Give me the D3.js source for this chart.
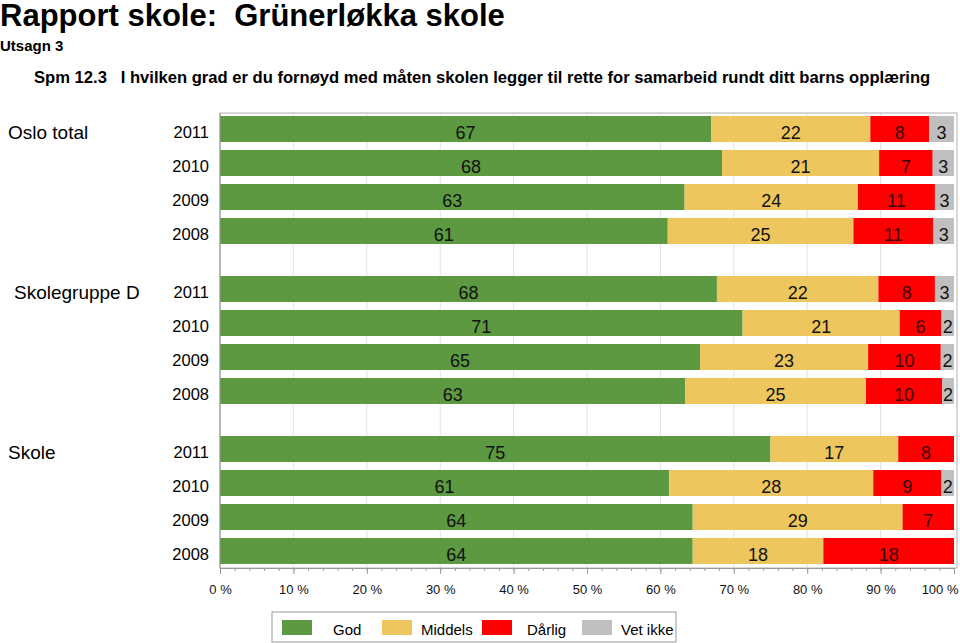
<!DOCTYPE html>
<html><head><meta charset="utf-8">
<script src="https://cdn.jsdelivr.net/npm/d3@7/dist/d3.min.js"></script>
<style>
body{margin:0;background:#fff;}
svg{display:block;font-family:"Liberation Sans",Arial,Helvetica,sans-serif;}
</style></head>
<body>
<svg id="c" width="960" height="643"></svg>
<script>
const groups = ["Oslo total", "Skolegruppe D", "Skole"];
const years = ["2011", "2010", "2009", "2008"];
const seriesNames = ["God", "Middels", "Dårlig", "Vet ikke"];
const colors = ["#5c9941", "#eec65e", "#ff0000", "#bfbfbf"];
const xTicks = [0, 10, 20, 30, 40, 50, 60, 70, 80, 90, 100];

// percentages per row (group, year) : God, Middels, Dårlig, Vet ikke
const god     = [66.9, 68.4, 63.3, 61.0,  67.7, 71.2, 65.4, 63.4,  75.0, 61.2, 64.4, 64.4];
const middels = [21.7, 21.4, 23.6, 25.3,  22.0, 21.4, 22.9, 24.6,  17.4, 27.8, 28.6, 17.8];
const darlig  = [ 8.0,  7.3, 10.5, 10.9,   7.7,  5.7,  9.9, 10.4,   7.6,  9.3,  7.0, 17.8];
const vetIkke = [ 3.4,  2.9,  2.6,  2.8,   2.6,  1.7,  1.8,  1.6,   0.0,  1.7,  0.0,  0.0];

const rows = [];
groups.forEach((g, gi) => years.forEach((y, yi) => {
  const i = gi * years.length + yi;
  rows.push({group: g, year: y, vals: [god[i], middels[i], darlig[i], vetIkke[i]]});
}));

const svg = d3.select("#c");
const pLeft = 220, pRight = 954, pTop = 113, pBottom = 568;

const x = d3.scaleLinear().domain([0, 100]).range([pLeft, pRight]);
const gScale = d3.scaleBand().domain(groups).range([116, 596]);
const yScale = d3.scaleBand().domain(years).range([0, 128]).paddingInner(8 / 34);
const rowY = d => gScale(d.group) + yScale(d.year);

// titles
svg.append("text").attr("x", 0).attr("y", 26).attr("font-size", 31).attr("font-weight", "bold")
  .style("white-space", "pre").text("Rapport skole:  Grünerløkka skole");
svg.append("text").attr("x", 0).attr("y", 51).attr("font-size", 15).attr("font-weight", "bold")
  .text("Utsagn 3");
svg.append("text").attr("x", 34).attr("y", 83).attr("font-size", 16.6).attr("font-weight", "bold")
  .style("white-space", "pre")
  .text("Spm 12.3   I hvilken grad er du fornøyd med måten skolen legger til rette for samarbeid rundt ditt barns opplæring");

// gridlines
svg.append("g").selectAll("line").data(xTicks.slice(1, -1)).join("line")
  .attr("x1", d => x(d)).attr("x2", d => x(d)).attr("y1", pTop).attr("y2", pBottom)
  .attr("stroke", "#e2e2e2").attr("stroke-width", 1);

// frame
svg.append("rect").attr("x", pLeft).attr("y", pTop).attr("width", 957 - pLeft).attr("height", pBottom - pTop)
  .attr("fill", "none").attr("stroke", "#b0b0b0").attr("stroke-width", 1);

// bars
const rowG = svg.append("g").selectAll("g").data(rows).join("g");
rowG.each(function(d) {
  const g = d3.select(this);
  let cum = 0;
  const segs = d.vals.map((v, k) => { const s = {x0: cum, x1: cum + v, v, k}; cum += v; return s; });
  const y0 = rowY(d), h = yScale.bandwidth();
  g.selectAll("rect").data(segs.filter(s => s.v > 0)).join("rect")
    .attr("x", s => x(s.x0)).attr("width", s => x(s.x1) - x(s.x0))
    .attr("y", y0).attr("height", h).attr("fill", s => colors[s.k]);
  g.selectAll("text").data(segs.filter(s => s.v > 0)).join("text")
    .attr("x", s => (x(s.x0) + x(s.x1)) / 2).attr("y", y0 + h / 2 + 9.5)
    .attr("text-anchor", "middle").attr("font-size", 18).attr("fill", s => s.k === 2 ? "#3a0000" : "#111")
    .text(s => Math.round(s.v));
});

// year labels
svg.append("g").selectAll("text").data(rows).join("text")
  .attr("x", 209).attr("y", d => rowY(d) + yScale.bandwidth() / 2 + 8.5)
  .attr("text-anchor", "end").attr("font-size", 16.5).text(d => d.year);

// group labels
const gx = [8, 14, 8];
svg.append("g").selectAll("text").data(groups).join("text")
  .attr("x", (d, i) => gx[i]).attr("y", d => gScale(d) + yScale(years[0]) + yScale.bandwidth() / 2 + 10)
  .attr("font-size", 19).text(d => d);

// axis
const ax = svg.append("g").attr("transform", `translate(0,${pBottom})`);
ax.call(d3.axisBottom(x).tickValues(d3.range(0, 101, 2)).tickSize(3).tickFormat(""));
const ax2 = svg.append("g").attr("transform", `translate(0,${pBottom})`);
ax2.call(d3.axisBottom(x).tickValues(xTicks).tickSize(6).tickPadding(11).tickFormat(d => d + " %"));
[ax, ax2].forEach(a => {
  a.select(".domain").attr("stroke", "#999");
  a.selectAll(".tick line").attr("stroke", "#999");
});
ax2.selectAll(".tick text").attr("font-size", 13).attr("fill", "#111").attr("font-family", "Liberation Sans, Arial, sans-serif")
  .filter(d => d === 100).attr("text-anchor", "end").attr("dx", 4);
ax.select(".domain").remove();

// left axis line
svg.append("line").attr("x1", pLeft).attr("x2", pLeft).attr("y1", pTop).attr("y2", pBottom)
  .attr("stroke", "#999");

// legend
const lg = svg.append("g");
lg.append("rect").attr("x", 272).attr("y", 612).attr("width", 404).attr("height", 30)
  .attr("fill", "#fff").attr("stroke", "#999");
const lx = [282, 382, 482, 582];
const tx = [333, 421, 527, 621];
seriesNames.forEach((s, i) => {
  lg.append("rect").attr("x", lx[i]).attr("y", 620).attr("width", 30).attr("height", 15).attr("fill", colors[i]);
  lg.append("text").attr("x", tx[i]).attr("y", 635).attr("font-size", 15).text(s);
});
</script>
</body></html>
